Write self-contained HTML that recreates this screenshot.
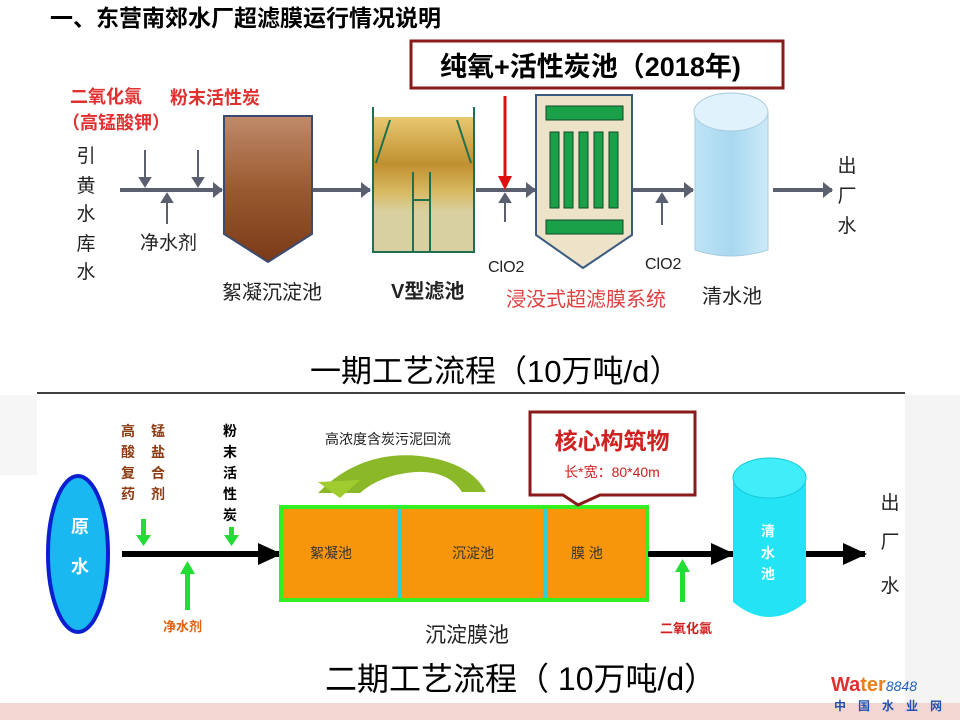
<!DOCTYPE html>
<html><head><meta charset="utf-8"><style>
html,body{margin:0;padding:0;background:#fff}
svg{display:block}
text{font-family:"Liberation Sans","Noto Sans CJK SC",sans-serif}
</style></head><body>
<svg width="960" height="720" viewBox="0 0 960 720" xmlns="http://www.w3.org/2000/svg">
<defs>
<linearGradient id="br" x1="0" y1="0" x2="0" y2="1"><stop offset="0" stop-color="#c08a6a"/><stop offset="0.5" stop-color="#9a5a30"/><stop offset="1" stop-color="#7a3a18"/></linearGradient>
<linearGradient id="gd" x1="0" y1="0" x2="0" y2="1"><stop offset="0" stop-color="#e8c870"/><stop offset="0.35" stop-color="#c09030"/><stop offset="0.55" stop-color="#d8b860"/><stop offset="0.7" stop-color="#d8d0a0"/><stop offset="1" stop-color="#d8d0a0"/></linearGradient>
<linearGradient id="lb" x1="0" y1="0" x2="1" y2="0"><stop offset="0" stop-color="#bfe4f6"/><stop offset="0.5" stop-color="#a8d8f0"/><stop offset="1" stop-color="#cdeaf8"/></linearGradient>
<marker id="ag" markerWidth="10" markerHeight="16" refX="9" refY="8" orient="auto" markerUnits="userSpaceOnUse"><path d="M0,0L10,8L0,16z" fill="#5a6070"/></marker>
<marker id="ab" markerWidth="24" markerHeight="22" refX="22" refY="11" orient="auto" markerUnits="userSpaceOnUse"><path d="M0,0L24,11L0,22z" fill="#000"/></marker>
</defs>
<rect x="905" y="395" width="55" height="310" fill="#f4f4f4"/>
<rect x="0" y="395" width="37" height="80" fill="#f6f6f6"/>
<rect x="0" y="703" width="960" height="17" fill="#f3d6d2"/>
<text x="50" y="26" font-size="23" font-weight="bold" fill="#000">一、东营南郊水厂超滤膜运行情况说明</text>
<rect x="411" y="41" width="372" height="47" fill="#fff" stroke="#8b1a1a" stroke-width="3"/>
<text x="440" y="76" font-size="27" font-weight="bold" fill="#000">纯氧+活性炭池（2018年)</text>
<text x="70" y="103" font-size="18" font-weight="bold" fill="#e03030">二氧化氯</text>
<text x="170" y="104" font-size="18" font-weight="bold" fill="#e03030">粉末活性炭</text>
<text x="62" y="129" font-size="18" font-weight="bold" fill="#e03030">（高锰酸钾）</text>
<g font-size="19" fill="#222" text-anchor="middle"><text x="86" y="162">引</text><text x="86" y="192">黄</text><text x="86" y="220">水</text><text x="86" y="250">库</text><text x="86" y="278">水</text></g>
<g stroke="#5a6070" stroke-width="4" fill="none">
<line x1="120" y1="190" x2="222" y2="190" marker-end="url(#ag)"/>
<line x1="313" y1="190" x2="370" y2="190" marker-end="url(#ag)"/>
<line x1="476" y1="190" x2="535" y2="190" marker-end="url(#ag)"/>
<line x1="633" y1="190" x2="693" y2="190" marker-end="url(#ag)"/>
<line x1="773" y1="190" x2="832" y2="190" marker-end="url(#ag)"/>
</g>
<g stroke="#5a6070" stroke-width="2" fill="none">
<line x1="145" y1="150" x2="145" y2="180"/><path d="M140,178L145,186L150,178z" fill="#5a6070"/>
<line x1="198" y1="150" x2="198" y2="180"/><path d="M193,178L198,186L203,178z" fill="#5a6070"/>
<line x1="167" y1="224" x2="167" y2="200"/><path d="M162,202L167,194L172,202z" fill="#5a6070"/>
<line x1="505" y1="222" x2="505" y2="200"/><path d="M500,202L505,194L510,202z" fill="#5a6070"/>
<line x1="662" y1="225" x2="662" y2="200"/><path d="M657,202L662,194L667,202z" fill="#5a6070"/>
</g>
<line x1="505" y1="96" x2="505" y2="178" stroke="#e01010" stroke-width="3"/><path d="M498,176L505,190L512,176z" fill="#e01010"/>
<text x="140" y="249" font-size="19" fill="#222">净水剂</text>
<path d="M224,116H312V234L268,262L224,234Z" fill="url(#br)" stroke="#3a4a70" stroke-width="2"/>
<rect x="373" y="117" width="101" height="135" fill="url(#gd)"/>
<g stroke="#207050" stroke-width="2" fill="none"><path d="M373,107V252H474V107"/><path d="M390,120L376,163M457,120L471,163M413,252V172M430,252V172M413,200H430"/></g>
<path d="M536,95H632V235L583,268L536,235Z" fill="#ede3c8" stroke="#3a5a80" stroke-width="2"/>
<g fill="#1aa048" stroke="#104a28" stroke-width="1"><rect x="546" y="106" width="77" height="14"/><rect x="546" y="220" width="77" height="14"/>
<rect x="550" y="132" width="9" height="76"/><rect x="564" y="132" width="9" height="76"/><rect x="579" y="132" width="9" height="76"/><rect x="594" y="132" width="9" height="76"/><rect x="609" y="132" width="9" height="76"/></g>
<path d="M695,112V250Q730,262 768,250V112" fill="url(#lb)" stroke="#a8cce0" stroke-width="1"/>
<ellipse cx="731" cy="112" rx="37" ry="19" fill="#e0f2fb" stroke="#a8cce0"/>
<g font-size="19" fill="#222" text-anchor="middle"><text x="847" y="172">出</text><text x="847" y="202">厂</text><text x="847" y="232">水</text></g>
<text x="488" y="272" font-size="16" fill="#222">ClO2</text>
<text x="645" y="269" font-size="16" fill="#222">ClO2</text>
<text x="222" y="299" font-size="20" fill="#222">絮凝沉淀池</text>
<text x="391" y="298" font-size="20" font-weight="bold" fill="#222">V型滤池</text>
<text x="506" y="306" font-size="20" fill="#e04040">浸没式超滤膜系统</text>
<text x="702" y="303" font-size="20" fill="#222">清水池</text>
<text x="310" y="382" font-size="31" fill="#000">一期工艺流程（10万吨/d）</text>
<line x1="37" y1="393" x2="905" y2="393" stroke="#000" stroke-width="1.5"/>
<ellipse cx="78" cy="554" rx="30" ry="78" fill="#1ab8f0" stroke="#0a20d0" stroke-width="4"/>
<text x="80" y="533" font-size="18" font-weight="bold" fill="#fff" text-anchor="middle">原</text>
<text x="80" y="573" font-size="18" font-weight="bold" fill="#fff" text-anchor="middle">水</text>
<g font-size="14" font-weight="bold" fill="#8b3a10" text-anchor="middle">
<text x="128" y="436">高</text><text x="128" y="457">酸</text><text x="128" y="478">复</text><text x="128" y="499">药</text>
<text x="158" y="436">锰</text><text x="158" y="457">盐</text><text x="158" y="478">合</text><text x="158" y="499">剂</text></g>
<g font-size="14" font-weight="bold" fill="#000" text-anchor="middle">
<text x="230" y="436">粉</text><text x="230" y="457">末</text><text x="230" y="478">活</text><text x="230" y="499">性</text><text x="230" y="520">炭</text></g>
<line x1="122" y1="554" x2="280" y2="554" stroke="#000" stroke-width="6" marker-end="url(#ab)"/>
<g fill="#22dd33"><rect x="141" y="519" width="5" height="18"/><path d="M136,535L143.5,546L151,535z"/>
<rect x="229" y="527" width="5" height="10"/><path d="M224,535L231.5,546L239,535z"/>
<rect x="185" y="572" width="5" height="38"/><path d="M180,574L187.5,561L195,574z"/>
<rect x="680" y="570" width="5" height="32"/><path d="M675,572L682.5,559L690,572z"/></g>
<text x="163" y="631" font-size="13" font-weight="bold" fill="#e06010">净水剂</text>
<path d="M318,493Q360,450 420,456Q470,462 486,492L462,492Q448,470 415,472Q380,475 360,493Z" fill="#8ab828"/>
<path d="M318,482L360,480L340,498Z" fill="#a0cc30"/>
<text x="325" y="444" font-size="14" fill="#222">高浓度含炭污泥回流</text>
<rect x="281" y="507" width="366" height="93" fill="#f7960a" stroke="#33ee22" stroke-width="4"/>
<rect x="397" y="509" width="5" height="89" fill="#30d0d0"/>
<rect x="543" y="509" width="5" height="89" fill="#30d0d0"/>
<g font-size="14" fill="#333"><text x="310" y="558">絮凝池</text><text x="452" y="558">沉淀池</text><text x="571" y="558">膜 池</text></g>
<path d="M530,412H695V495H600L578,505L563,495H530Z" fill="#fff" stroke="#8b1a1a" stroke-width="3"/>
<text x="612" y="449" font-size="23" font-weight="bold" fill="#d02020" text-anchor="middle">核心构筑物</text>
<text x="612" y="477" font-size="14" fill="#d02020" text-anchor="middle">长*宽：80*40m</text>
<line x1="648" y1="554" x2="733" y2="554" stroke="#000" stroke-width="6" marker-end="url(#ab)"/>
<line x1="806" y1="554" x2="865" y2="554" stroke="#000" stroke-width="6" marker-end="url(#ab)"/>
<text x="660" y="633" font-size="13" font-weight="bold" fill="#d02020">二氧化氯</text>
<path d="M733,478V602Q769,632 806,602V478" fill="#22e4f4"/>
<ellipse cx="769.5" cy="478" rx="36.5" ry="20" fill="#40eefa" stroke="#18c8d8"/>
<g font-size="14" font-weight="bold" fill="#fff" text-anchor="middle"><text x="768" y="536">清</text><text x="768" y="558">水</text><text x="768" y="579">池</text></g>
<g font-size="19" fill="#222" text-anchor="middle"><text x="890" y="509">出</text><text x="890" y="548">厂</text><text x="890" y="592">水</text></g>
<text x="425" y="642" font-size="21" fill="#222">沉淀膜池</text>
<text x="325" y="690" font-size="32" fill="#000">二期工艺流程（ 10万吨/d）</text>
<text x="831" y="691" font-size="20" font-weight="bold" fill="#e03030">Wa<tspan fill="#e88020">ter</tspan><tspan font-size="14" font-style="italic" font-weight="normal" fill="#2060c0">8848</tspan></text>
<text x="834" y="710" font-size="12" font-weight="bold" fill="#2050b0" letter-spacing="12">中国水业网</text>
</svg>
</body></html>
